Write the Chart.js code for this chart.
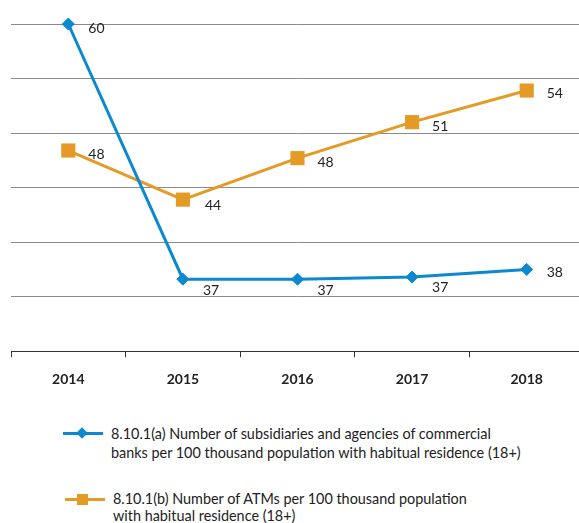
<!DOCTYPE html>
<html>
<head>
<meta charset="utf-8">
<script src="https://cdn.jsdelivr.net/npm/chart.js"></script>
<style>
  html, body { margin: 0; padding: 0; background: #fff; overflow: hidden; }
  body { width: 579px; height: 523px; position: relative; font-family: Lato, "Open Sans", sans-serif; }
  .chart-box { position: absolute; left: 0; top: 0; width: 594px; height: 414px; }
  .legend-item { position: absolute; font-size: 14.4px; line-height: 19px; color: #222; }
  .legend-text { position: absolute; white-space: nowrap; }
  .legend-line { position: absolute; width: 40px; height: 3px; }
  .legend-mark { position: absolute; }
</style>
</head>
<body>
<div class="chart-box"><canvas id="trendChart" width="594" height="414"></canvas></div>

<div class="legend-item" style="left:0;top:0">
  <div class="legend-line" style="left:63px;top:432px;background:#0a88d0"></div>
  <div class="legend-mark" style="left:78px;top:429px;width:8px;height:8px;background:#0a88d0;transform:rotate(45deg)"></div>
  <div class="legend-text" style="left:111px;top:424px">8.10.1(a) Number of subsidiaries and agencies of commercial<br>banks per 100 thousand population with habitual residence (18+)</div>
</div>
<div class="legend-item" style="left:0;top:0">
  <div class="legend-line" style="left:65px;top:498px;background:#e39b26"></div>
  <div class="legend-mark" style="left:77px;top:494px;width:11px;height:11px;background:#e39b26"></div>
  <div class="legend-text" style="left:113px;top:491px;line-height:16.5px">8.10.1(b) Number of ATMs per 100 thousand population<br>with habitual residence (18+)</div>
</div>

<script>
const years = ['2014', '2015', '2016', '2017', '2018'];
const branchValues = [60, 36.6, 36.6, 36.8, 37.5];
const branchLabels = ['60', '37', '37', '37', '38'];
const atmValues = [48.4, 43.9, 47.7, 51.0, 53.9];
const atmLabels = ['48', '44', '48', '51', '54'];
const yTicks = [30, 35, 40, 45, 50, 55, 60];

// label nudges (px) right/down of each point
const branchLabelShift = [[20, 4], [20, 11], [20, 11], [20, 10], [20, 3]];
const atmLabelShift = [[20, 4], [22, 6], [20, 4], [20, 4], [20, 3]];

const BLUE = '#0a88d0';
const ORANGE = '#e39b26';

const pointText = {
  id: 'pointText',
  afterDatasetsDraw(chart) {
    const ctx = chart.ctx;
    ctx.save();
    ctx.font = '14px Lato, sans-serif';
    ctx.fillStyle = '#222';
    ctx.textAlign = 'left';
    ctx.textBaseline = 'middle';
    chart.data.datasets.forEach((ds, di) => {
      const meta = chart.getDatasetMeta(di);
      meta.data.forEach((pt, i) => {
        const sh = ds.labelShift[i];
        ctx.fillText(ds.valueLabels[i], pt.x + sh[0], pt.y + sh[1]);
      });
    });
    ctx.restore();
  }
};

const ctx = document.getElementById('trendChart').getContext('2d');
new Chart(ctx, {
  type: 'line',
  data: {
    labels: years,
    datasets: [{
      label: '8.10.1(a)',
      data: branchValues,
      valueLabels: branchLabels,
      labelShift: branchLabelShift,
      borderColor: BLUE,
      backgroundColor: BLUE,
      borderWidth: 3,
      pointStyle: 'rectRot',
      pointRadius: 6,
      pointBorderWidth: 1,
      tension: 0,
      clip: false
    }, {
      label: '8.10.1(b)',
      data: atmValues,
      valueLabels: atmLabels,
      labelShift: atmLabelShift,
      borderColor: ORANGE,
      backgroundColor: ORANGE,
      borderWidth: 3,
      pointStyle: 'rect',
      pointRadius: 10,
      pointBorderWidth: 0,
      tension: 0,
      clip: false
    }]
  },
  options: {
    responsive: false,
    animation: false,
    layout: { padding: { top: 24, right: 2, bottom: 12, left: 11 } },
    plugins: { legend: { display: false }, tooltip: { enabled: false } },
    scales: {
      x: {
        offset: true,
        grid: { offset: true, drawOnChartArea: false, drawTicks: true, tickLength: 6, color: '#333' },
        border: { display: true, color: '#333', width: 1 },
        ticks: { color: '#222', padding: 14, font: { family: 'Lato', size: 14, weight: 'bold' } }
      },
      y: {
        min: yTicks[0],
        max: yTicks[yTicks.length - 1],
        afterBuildTicks: (axis) => { axis.ticks = yTicks.map(v => ({ value: v })); },
        ticks: { display: false },
        border: { display: false },
        grid: {
          drawTicks: false,
          color: (c) => c.tick && c.tick.value === yTicks[0] ? 'rgba(0,0,0,0)' : '#8a8a8a',
          lineWidth: 1
        }
      }
    }
  },
  plugins: [pointText]
});
</script>
</body>
</html>
